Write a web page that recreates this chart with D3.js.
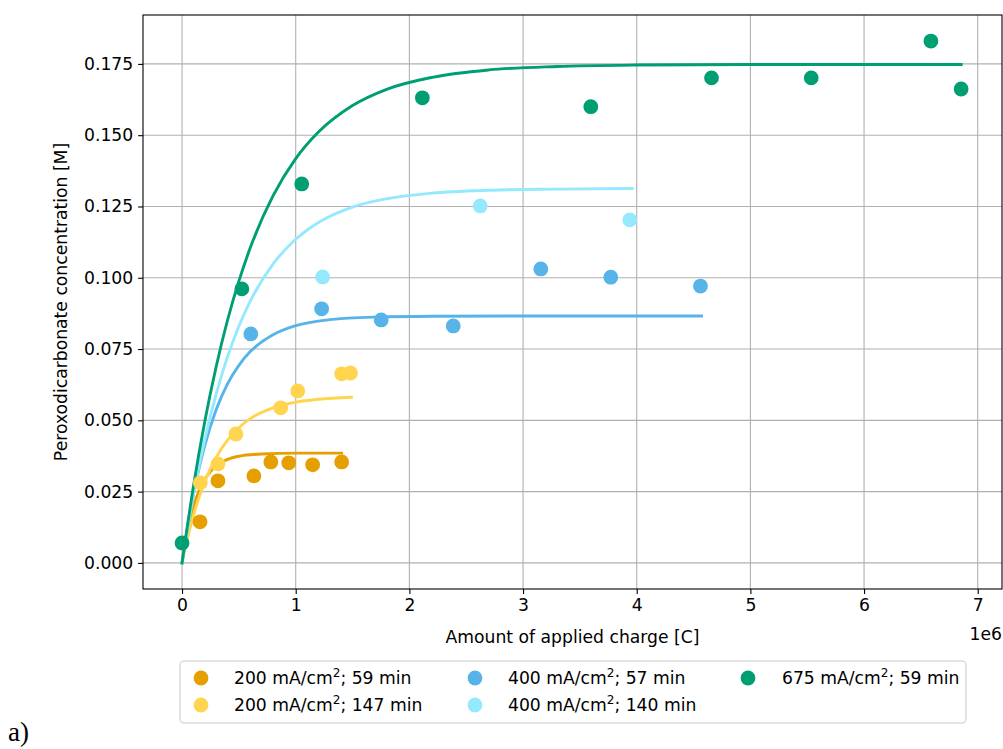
<!DOCTYPE html>
<html><head><meta charset="utf-8">
<script src="https://cdn.jsdelivr.net/npm/d3@7"></script>
<style>
body{margin:0;background:#fff;}
text{font-family:"DejaVu Sans",sans-serif;fill:#000;}
</style>
</head><body>
<svg id="c" width="1003" height="749"></svg>
<script>
// ---- data (charge in C, concentration in M) ----
const seriesLabels = ["200 mA/cm²; 59 min","200 mA/cm²; 147 min","400 mA/cm²; 57 min","400 mA/cm²; 140 min","675 mA/cm²; 59 min"];
const seriesColors = ["#E69F00","#FFD54F","#56B4E9","#95E9FF","#009E73"];

// measured points
const ptsX_200_59  = [0.158e6,0.316e6,0.632e6,0.781e6,0.939e6,1.149e6,1.404e6];
const ptsY_200_59  = [0.0144,0.0288,0.0305,0.0354,0.0351,0.0344,0.0354];
const ptsX_200_147 = [0.161e6,0.316e6,0.474e6,0.868e6,1.018e6,1.404e6,1.482e6];
const ptsY_200_147 = [0.0281,0.0347,0.0452,0.0544,0.0603,0.0663,0.0666];
const ptsX_400_57  = [0.605e6,1.228e6,1.752e6,2.386e6,3.156e6,3.772e6,4.561e6];
const ptsY_400_57  = [0.0803,0.0891,0.0852,0.0831,0.1031,0.1002,0.0971];
const ptsX_400_140 = [1.237e6,2.623e6,3.939e6];
const ptsY_400_140 = [0.1003,0.1252,0.1203];
const ptsX_675_59  = [0,0.526e6,1.053e6,2.114e6,3.596e6,4.658e6,5.535e6,6.588e6,6.854e6];
const ptsY_675_59  = [0.0070,0.0961,0.1329,0.1631,0.1600,0.1701,0.1701,0.1830,0.1662];

// fitted curves
const fitX_200_59  = [0,0.025e6,0.05e6,0.075e6,0.1e6,0.15e6,0.2e6,0.25e6,0.3e6,0.4e6,0.5e6,0.7e6,1.0e6,1.404e6];
const fitY_200_59  = [0,0.0063,0.0116,0.0160,0.0197,0.0253,0.0293,0.0320,0.0340,0.0363,0.0374,0.0382,0.0385,0.0385];
const fitX_200_147 = [0,0.05e6,0.1e6,0.15e6,0.2e6,0.3e6,0.4e6,0.5e6,0.6e6,0.8e6,1.0e6,1.2e6,1.49e6];
const fitY_200_147 = [0,0.0090,0.0166,0.0230,0.0285,0.0370,0.0431,0.0474,0.0506,0.0544,0.0564,0.0574,0.0581];
const fitX_400_57  = [0,0.05e6,0.1e6,0.15e6,0.2e6,0.3e6,0.4e6,0.5e6,0.6e6,0.8e6,1.0e6,1.3e6,1.7e6,2.2e6,3.0e6,4.57e6];
const fitY_400_57  = [0,0.0129,0.0239,0.0332,0.0412,0.0537,0.0628,0.0693,0.0741,0.0800,0.0832,0.0853,0.0862,0.0865,0.0866,0.0866];
const fitX_400_140 = [0,0.1e6,0.2e6,0.3e6,0.4e6,0.5e6,0.6e6,0.8e6,1.0e6,1.2e6,1.5e6,1.8e6,2.2e6,2.7e6,3.3e6,3.96e6];
const fitY_400_140 = [0,0.0238,0.0433,0.0592,0.0723,0.0830,0.0918,0.1048,0.1135,0.1194,0.1248,0.1277,0.1297,0.1307,0.1311,0.1313];
const fitX_675_59  = [0,0.1e6,0.2e6,0.3e6,0.4e6,0.5e6,0.6e6,0.8e6,1.0e6,1.2e6,1.5e6,1.8e6,2.2e6,2.7e6,3.3e6,4.0e6,5.0e6,6.0e6,6.854e6];
const fitY_675_59  = [0,0.0268,0.0496,0.0688,0.0851,0.0988,0.1105,0.1287,0.1418,0.1511,0.1604,0.1661,0.1703,0.1729,0.1741,0.1746,0.1748,0.1748,0.1748];

const xTicks = [0,1e6,2e6,3e6,4e6,5e6,6e6,7e6];
const xTickLabels = ["0","1","2","3","4","5","6","7"];
const yTicks = [0,0.025,0.05,0.075,0.1,0.125,0.15,0.175];
const xLabel = "Amount of applied charge [C]";
const yLabel = "Peroxodicarbonate concentration [M]";
const offsetLabel = "1e6";
const panelLabel = "a)";

// ---- build ----
const ptsX = [ptsX_200_59,ptsX_200_147,ptsX_400_57,ptsX_400_140,ptsX_675_59];
const ptsY = [ptsY_200_59,ptsY_200_147,ptsY_400_57,ptsY_400_140,ptsY_675_59];
const fitX = [fitX_200_59,fitX_200_147,fitX_400_57,fitX_400_140,fitX_675_59];
const fitY = [fitY_200_59,fitY_200_147,fitY_400_57,fitY_400_140,fitY_675_59];

const L=143,R=1002,T=15,B=589;
const svg = d3.select("#c");
const x = d3.scaleLinear().domain([-0.3435e6,7.2135e6]).range([L,R]);
const y = d3.scaleLinear().domain([-0.00915,0.19215]).range([B,T]);
const FS = 17.2;

// grid
const grid = svg.append("g");
grid.selectAll(".gx").data(xTicks).join("line")
  .attr("x1",d=>x(d)).attr("x2",d=>x(d)).attr("y1",T).attr("y2",B)
  .attr("stroke","#b0b0b0").attr("stroke-width",1.1);
grid.selectAll(".gy").data(yTicks).join("line")
  .attr("y1",d=>y(d)).attr("y2",d=>y(d)).attr("x1",L).attr("x2",R)
  .attr("stroke","#b0b0b0").attr("stroke-width",1.1);

// fit lines
const line = d3.line().x(d=>x(d[0])).y(d=>y(d[1])).curve(d3.curveMonotoneX);
fitX.forEach((xs,i)=>{
  svg.append("path").datum(xs.map((v,j)=>[v,fitY[i][j]]))
    .attr("d",line).attr("fill","none").attr("stroke",seriesColors[i])
    .attr("stroke-width",2.9).attr("stroke-linecap","square");
});
// points
ptsX.forEach((xs,i)=>{
  svg.append("g").selectAll("circle").data(xs.map((v,j)=>[v,ptsY[i][j]])).join("circle")
    .attr("cx",d=>x(d[0])).attr("cy",d=>y(d[1])).attr("r",7.4).attr("fill",seriesColors[i]);
});

// axes
const xAxis = d3.axisBottom(x).tickValues(xTicks).tickFormat((d,i)=>xTickLabels[i]).tickSizeOuter(0).tickSize(4.9).tickPadding(4.9);
const yAxis = d3.axisLeft(y).tickValues(yTicks).tickFormat(d3.format(".3f")).tickSizeOuter(0).tickSize(4.9).tickPadding(4.9);
const gx = svg.append("g").attr("transform",`translate(0,${B})`).call(xAxis);
const gy = svg.append("g").attr("transform",`translate(${L},0)`).call(yAxis);
[gx,gy].forEach(g=>{
  g.select(".domain").remove();
  g.selectAll(".tick line").attr("stroke","#000").attr("stroke-width",1.1);
  g.selectAll(".tick text").attr("font-size",FS).attr("font-family","DejaVu Sans").attr("fill","#000");
});
// spines
svg.append("rect").attr("x",L).attr("y",T).attr("width",R-L).attr("height",B-T)
  .attr("fill","none").attr("stroke","#000").attr("stroke-width",1.1);

// labels
svg.append("text").attr("x",(L+R)/2).attr("y",643).attr("text-anchor","middle").attr("font-size",FS).text(xLabel);
svg.append("text").attr("transform",`translate(67,${(T+B)/2}) rotate(-90)`).attr("text-anchor","middle").attr("font-size",FS).text(yLabel);
svg.append("text").attr("x",R).attr("y",640).attr("text-anchor","end").attr("font-size",FS).text(offsetLabel);
svg.append("text").attr("x",8).attr("y",741).style("font-family","'Liberation Serif','DejaVu Serif',serif").attr("font-size",27).text(panelLabel);

// legend
const lg = svg.append("g");
lg.append("rect").attr("x",180).attr("y",661).attr("width",786).attr("height",62).attr("rx",4)
  .attr("fill","#fff").attr("fill-opacity",0.8).attr("stroke","#cccccc").attr("stroke-width",1.1);
const colX = [201,475,748];
const textX = [234,508,782];
const rowY = [678,705];
const layout = [[0,0],[0,1],[1,0],[1,1],[2,0]];
seriesLabels.forEach((lab,i)=>{
  const [c,r] = layout[i];
  lg.append("circle").attr("cx",colX[c]).attr("cy",rowY[r]).attr("r",7.4).attr("fill",seriesColors[i]);
  const parts = lab.split("²");
  const t = lg.append("text").attr("x",textX[c]).attr("y",rowY[r]+6).attr("font-size",FS);
  t.append("tspan").text(parts[0]);
  t.append("tspan").attr("font-size",FS*0.7).attr("dy",-7).text("2");
  t.append("tspan").attr("dy",7).text(parts[1]);
});
</script>
</body></html>
